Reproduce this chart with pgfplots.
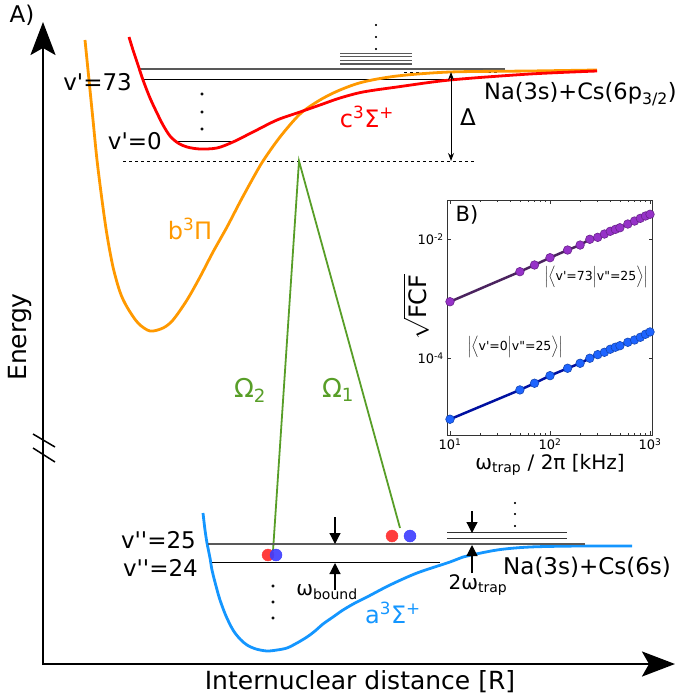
\documentclass[border=0pt]{standalone}
\usepackage{fontspec}
\setmainfont{DejaVu Sans}[Ligatures=TeXOff]
\usepackage{amsmath}
\usepackage{pgfplots}
\pgfplotsset{compat=1.18}
\usetikzlibrary{arrows.meta}
\definecolor{cRed}{RGB}{255,0,0}
\definecolor{cOr}{RGB}{255,153,0}
\definecolor{cBlue}{RGB}{20,150,255}
\definecolor{cGreen}{RGB}{88,158,40}
\definecolor{dotR}{RGB}{255,60,60}
\definecolor{dotB}{RGB}{60,60,255}
\definecolor{purpLine}{RGB}{75,35,95}
\definecolor{purpMark}{RGB}{150,50,200}
\definecolor{navyLine}{RGB}{0,16,160}
\definecolor{blueMark}{RGB}{30,100,255}
\newcommand\fs[1]{\fontsize{#1}{#1}\selectfont}
\newcommand\ap{'}
\newcommand\dq{"}
\begin{document}
\begin{tikzpicture}
\begin{axis}[width=676pt,height=698pt,scale only axis,xmin=0,xmax=676,ymin=0,ymax=698,
  y dir=reverse,hide axis,clip=false]
% axes
\addplot[line width=2.5pt,-{Stealth[length=33pt,width=25pt,inset=7pt]}] coordinates {(43,665) (43,22)};
\addplot[line width=2.5pt,-{Stealth[length=33pt,width=25pt,inset=7pt]}] coordinates {(43,664) (675,664)};
\addplot[line width=1.5pt] coordinates {(33,434) (55,447)};
\addplot[line width=1.5pt] coordinates {(33,448) (55,462)};
% upper levels
\addplot[line width=1.2pt, black!65] coordinates {(140,69) (505,69)};
\addplot[line width=1pt, black] coordinates {(143,80) (452,80)};
\addplot[line width=1.3pt, black!65] coordinates {(340,53.3) (412,53.3)};
\addplot[line width=1.3pt, black!65] coordinates {(340,56.8) (412,56.8)};
\addplot[line width=1.3pt, black!65] coordinates {(340,60.4) (412,60.4)};
\addplot[line width=1.3pt, black!65] coordinates {(340,64) (412,64)};
\addplot[line width=0.8pt, dash pattern=on 3pt off 3pt] coordinates {(404,72) (497,72)};
\addplot[line width=0.8pt, dash pattern=on 3pt off 3pt] coordinates {(123,161) (475,161)};
\addplot[line width=1pt] coordinates {(175,141) (233,141)};
\addplot[only marks, mark=*, mark size=1.4pt, black] coordinates {(202,94) (202,112) (202,129)};
\addplot[only marks, mark=*, mark size=0.9pt, black] coordinates {(376,25) (376,37) (376,49)};
% curves
\addplot[line width=2.8pt, cOr, smooth] coordinates {(85,40) (89,80) (93,120) (97,160) (102,200) (107,235) (113,267) (120,292) (127,307) (138,323) (150,331) (163,328) (173,320) (187,300) (200,277) (213,252) (227,227) (240,202) (252,180) (263,161) (280,137) (300,114) (320,100) (340,90) (363,82) (397,76) (450,72) (530,71) (597,70)};
\addplot[line width=2.8pt, cRed, smooth] coordinates {(129,37) (133,50) (138,65) (143,80) (150,98) (157,113) (163,125) (170,136) (178,143) (187,147) (200,149) (217,148) (233,142) (253,132) (277,120) (300,112) (320,105) (340,98) (363,92) (397,87) (450,80) (530,74) (597,71)};
\addplot[line width=2.8pt, cBlue, smooth] coordinates {(203,513) (205,530) (207,543) (210,558) (212,570) (216,586) (220,600) (226,616) (233,630) (240,639) (247,645) (256,649) (267,651) (277,650) (287,648) (297,643) (307,637) (315,631) (323,624) (333,617) (343,610) (355,603) (367,597) (390,585) (417,573) (450,562) (463,557) (497,550) (530,547) (580,546) (632,546)};
% Delta arrow
\addplot[line width=1pt,{Stealth[length=8pt,width=6pt]}-{Stealth[length=8pt,width=6pt]}] coordinates {(451,72) (451,161)};
% green lines
\addplot[line width=1.8pt, cGreen] coordinates {(273,551) (299,161) (400,528)};
% lower levels
\addplot[line width=1.2pt, black!65] coordinates {(208,544) (585,544)};
\addplot[line width=1pt, black] coordinates {(212,562.5) (440,562.5)};
\addplot[line width=1.2pt, black!80] coordinates {(447,532.7) (567,532.7)};
\addplot[line width=1.2pt, black!80] coordinates {(447,538.3) (567,538.3)};
\addplot[only marks, mark=*, mark size=1.4pt, black] coordinates {(273,586) (273,602) (273,618)};
\addplot[only marks, mark=*, mark size=0.9pt, black] coordinates {(515,503) (515,514) (515,526)};
% atoms
\addplot[only marks, mark=*, mark size=6pt, dotR, mark options={draw=none}] coordinates {(268,555) (392,536)};
\addplot[only marks, mark=*, mark size=6pt, dotB, mark options={draw=none, fill opacity=0.9}] coordinates {(276,555) (410,536)};
% small arrows
\addplot[line width=1.2pt,-{Triangle[length=11pt,width=11pt]}] coordinates {(335,517) (335,544)};
\addplot[line width=1.2pt,-{Triangle[length=11pt,width=11pt]}] coordinates {(335,590) (335,563)};
\addplot[line width=1.2pt,-{Triangle[length=11pt,width=11pt]}] coordinates {(472,511) (472,533)};
\addplot[line width=1.2pt,-{Triangle[length=11pt,width=11pt]}] coordinates {(472,573) (472,545)};
% labels
\node[font=\fs{23}] at (22,15) {A)};
\node[font=\fs{25}, rotate=90] at (20,337) {Energy};
\node[font=\fs{25}] at (360,682) {Internuclear distance [R]};
\node[font=\fs{23}, anchor=east, inner sep=0] at (132,82) {v\ap=73};
\node[font=\fs{23}, anchor=east, inner sep=0] at (162,141) {v\ap=0};
\node[font=\fs{24}, text=cRed] at (367,117) {c\textsuperscript{3}Σ\textsuperscript{+}};
\node[font=\fs{23}] at (468,117) {Δ};
\node[font=\fs{22.5}, anchor=west, inner sep=0] at (484,94) {Na(3s)+Cs(6p\textsubscript{3/2})};
\node[font=\fs{24}, text=cOr] at (190,229) {b\textsuperscript{3}Π};
\node[font=\fs{26}, text=cGreen] at (250,390) {Ω\textsubscript{2}};
\node[font=\fs{26}, text=cGreen] at (338,390) {Ω\textsubscript{1}};
\node[font=\fs{23}, anchor=east, inner sep=0] at (196,540) {v\ap\ap=25};
\node[font=\fs{23}, anchor=east, inner sep=0] at (198,568) {v\ap\ap=24};
\node[font=\fs{20}] at (327,592) {ω\textsubscript{bound}};
\node[font=\fs{20}] at (478,585) {2ω\textsubscript{trap}};
\node[font=\fs{23}, anchor=west, inner sep=0] at (503,567) {Na(3s)+Cs(6s)};
\node[font=\fs{24}, text=cBlue] at (393,613) {a\textsuperscript{3}Σ\textsuperscript{+}};
% inset labels
\node[font=\fs{21}] at (467,215) {B)};
\node[font=\fs{24}, rotate=90] at (416,307) {$\sqrt{\text{FCF}}$};
\node[font=\fs{20}] at (550,465) {ω\textsubscript{trap} / 2π [kHz]};
\node[font=\fs{12.5}, inner sep=0] at (596,277) {$\Bigl|\Bigl\langle\text{v\ap=73}\Bigr|\text{v\dq=25}\Bigr\rangle\Bigr|$};
\node[font=\fs{12.5}, inner sep=0] at (515,347) {$\Bigl|\Bigl\langle\text{v\ap=0}\Bigr|\text{v\dq=25}\Bigr\rangle\Bigr|$};
\end{axis}
\begin{axis}[at={(447.3pt,263pt)},anchor=south west,width=205.4pt,height=235pt,scale only axis,
  xmode=log,ymode=log,xmin=9.4,xmax=1064,ymin=5e-6,ymax=0.0465,
  axis line style={draw=black!80, line width=0.9pt},
  tick style={black!80, line width=0.6pt},
  tick align=inside, major tick length=4pt, minor tick length=2.5pt,
  xtick={10,100,1000}, xticklabels={10\textsuperscript{1},10\textsuperscript{2},10\textsuperscript{3}},
  ytick={1e-4,1e-2}, yticklabels={10\textsuperscript{-4},10\textsuperscript{-2}},
  yminorticks=false,
  ticklabel style={font=\fs{13}}]
\addplot[purpLine, line width=2.5pt, mark=*, mark size=4.3pt, mark options={fill=purpMark, draw=purpMark!70!black, line width=0.6pt}] coordinates {
(10,8.91e-4) (50,2.864e-3) (70,3.715e-3) (100,4.93e-3) (150,6.65e-3) (200,8.07e-3) (250,1.009e-2) (300,1.089e-2) (350,1.239e-2) (400,1.377e-2) (450,1.483e-2) (500,1.581e-2) (600,1.828e-2) (700,2.051e-2) (800,2.280e-2) (900,2.495e-2) (1000,2.667e-2)};
\addplot[navyLine, line width=2.5pt, mark=*, mark size=4.3pt, mark options={fill=blueMark, draw=blueMark!70!black, line width=0.6pt}] coordinates {
(10,9.23e-6) (50,2.884e-5) (70,3.741e-5) (100,5.023e-5) (150,6.70e-5) (200,8.13e-5) (250,9.89e-5) (300,1.138e-4) (350,1.247e-4) (400,1.403e-4) (450,1.517e-4) (500,1.611e-4) (600,1.841e-4) (700,2.014e-4) (800,2.234e-4) (900,2.512e-4) (1000,2.748e-4)};
\end{axis}
\pgfresetboundingbox
\useasboundingbox (0,0) rectangle (676pt,698pt);
\end{tikzpicture}
\end{document}
